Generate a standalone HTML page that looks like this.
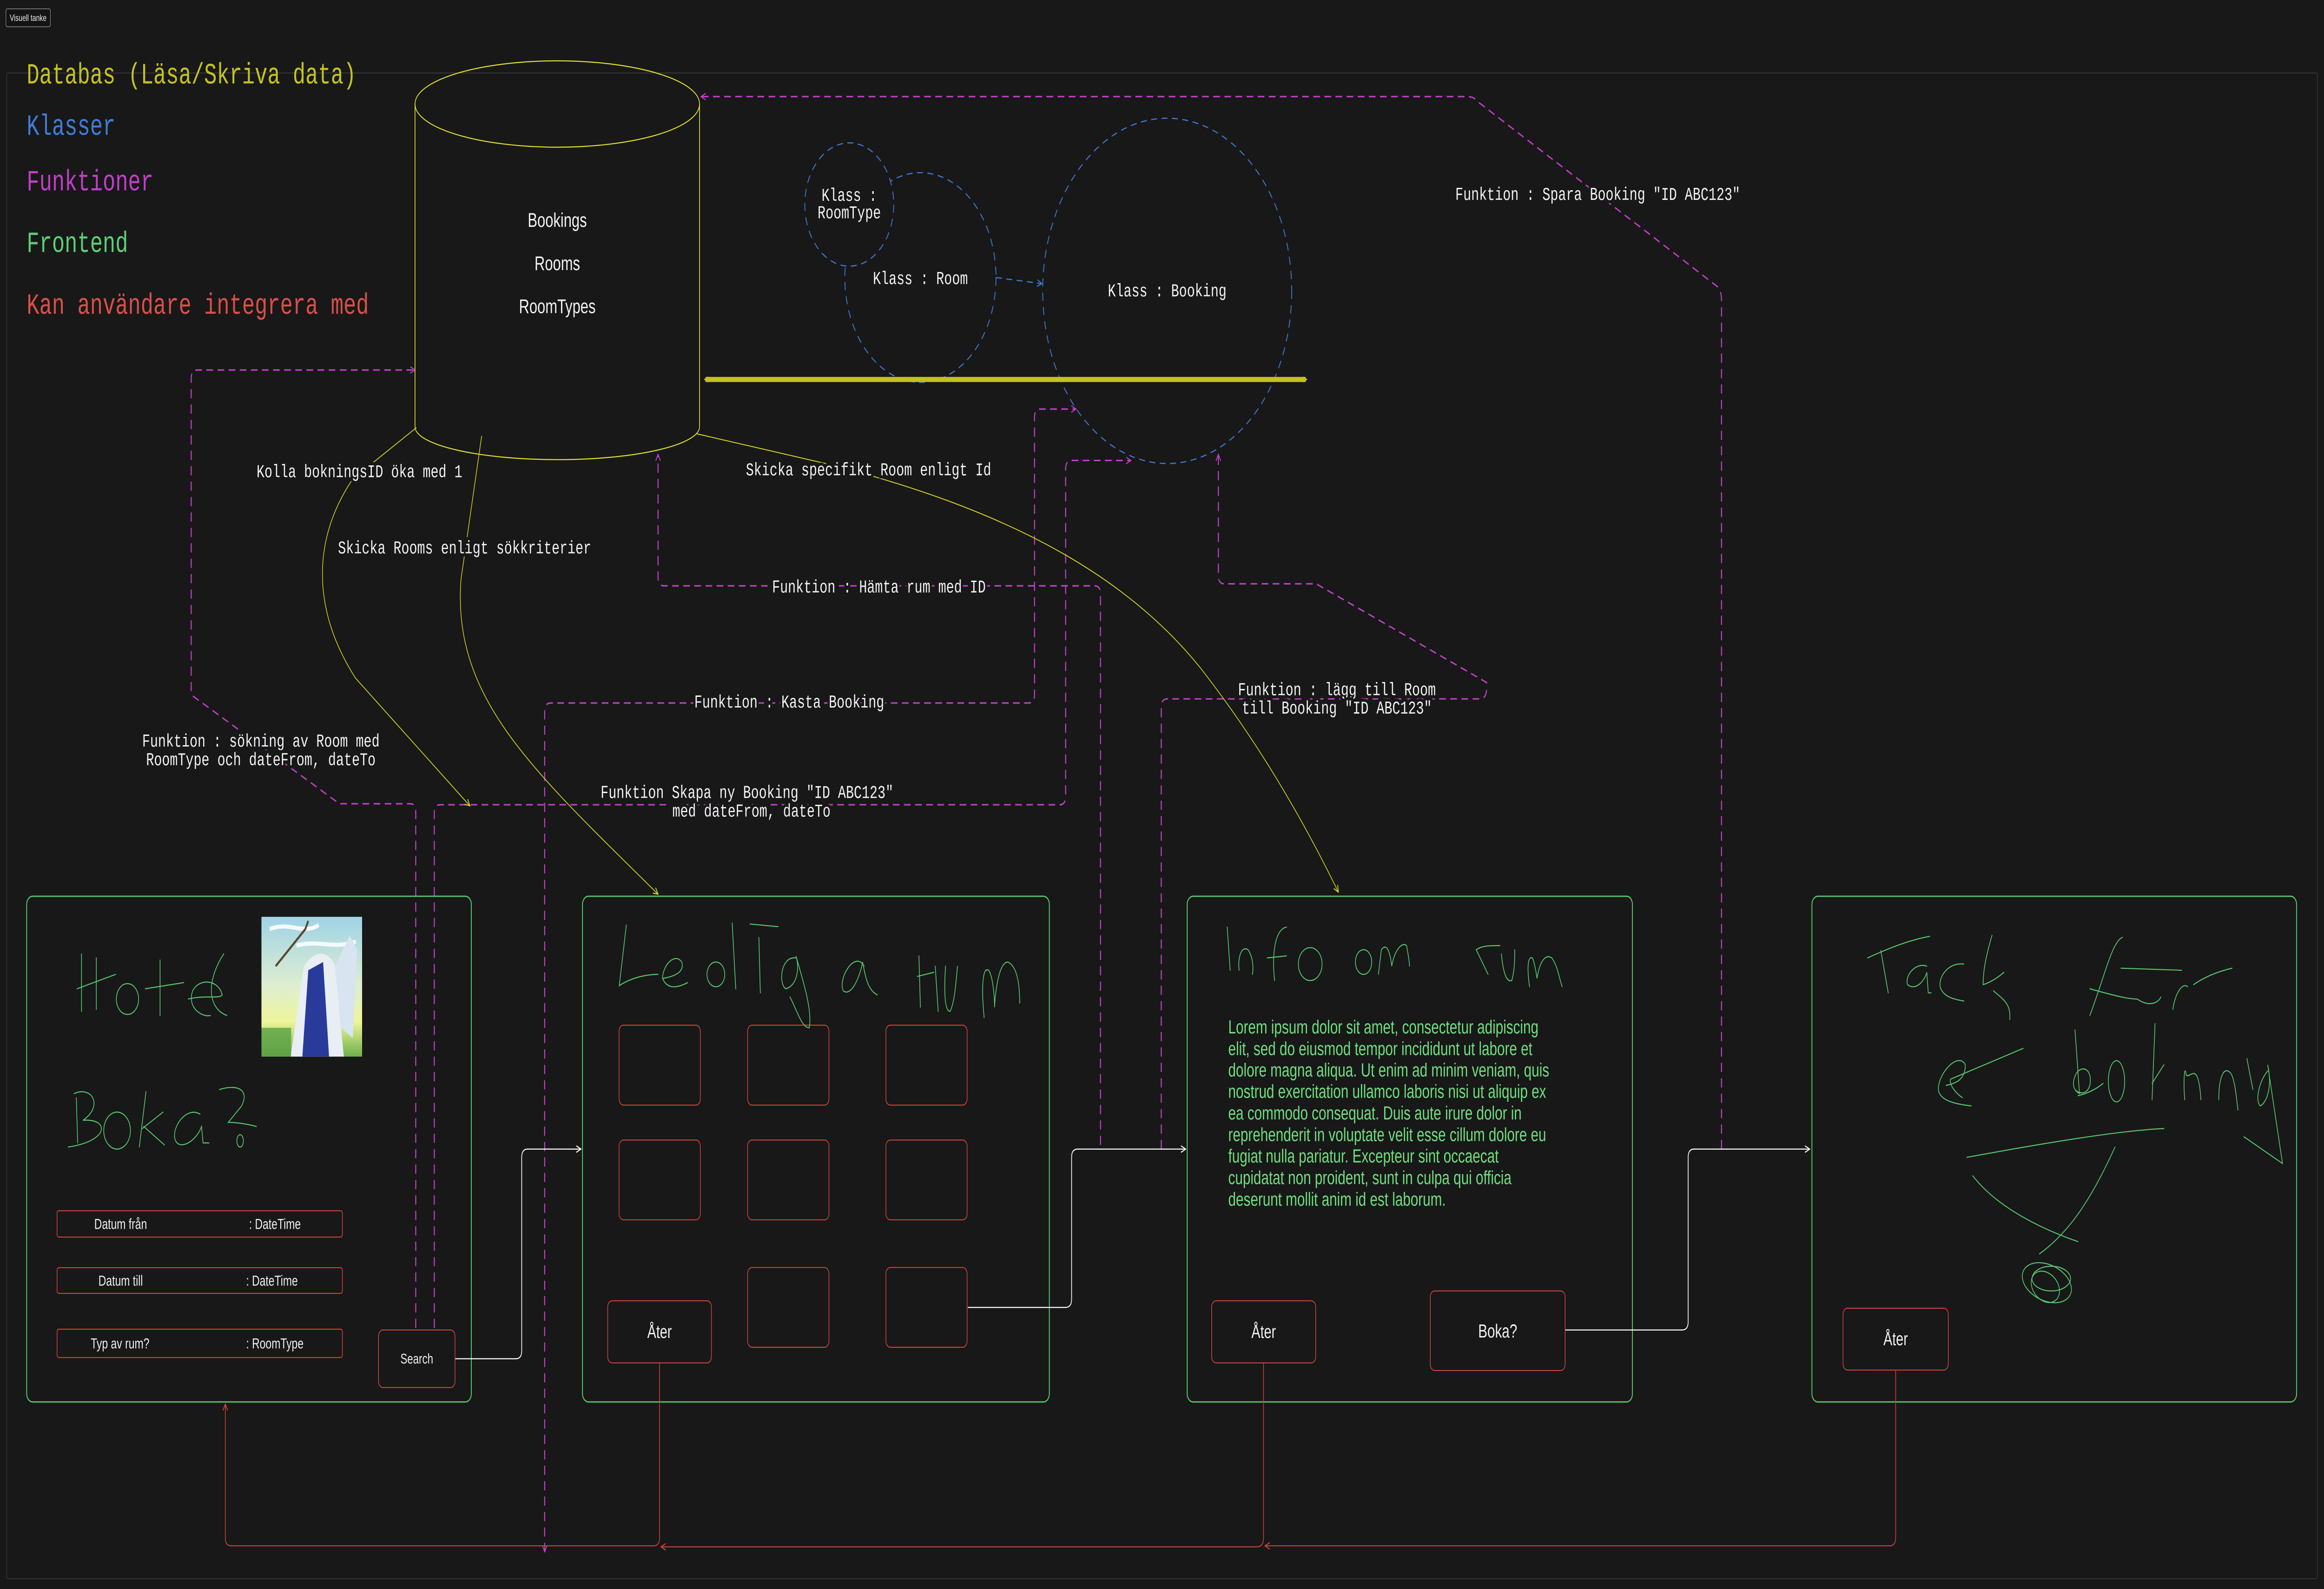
<!DOCTYPE html>
<html><head><meta charset="utf-8"><meta name="viewport" content="width=6933, initial-scale=1"><style>
html,body{margin:0;padding:0;background:#181818;overflow:hidden;width:100vw;height:100vh;}
svg{display:block;width:100vw;height:100vh;}
.mono{font-family:"Liberation Mono","DejaVu Sans Mono",monospace;}
.sans{font-family:"Liberation Sans","DejaVu Sans",sans-serif;}
.lbl{fill:#f2f2f2;font-size:8.9px;stroke:#181818;stroke-width:3;paint-order:stroke;}
</style></head><body>
<svg viewBox="0 0 1568 773" preserveAspectRatio="none" xmlns="http://www.w3.org/2000/svg">
<defs>
<marker id="am" viewBox="0 0 10 10" refX="9" refY="5" markerWidth="4" markerHeight="4" markerUnits="userSpaceOnUse" orient="auto-start-reverse"><path d="M1,1 L9,5 L1,9" fill="none" stroke="#c43fcb" stroke-width="1.3"/></marker>
<marker id="ab" viewBox="0 0 10 10" refX="9" refY="5" markerWidth="4" markerHeight="4" markerUnits="userSpaceOnUse" orient="auto"><path d="M1,1 L9,5 L1,9" fill="none" stroke="#3d7bd6" stroke-width="1.3"/></marker>
<marker id="aw" viewBox="0 0 10 10" refX="9" refY="5" markerWidth="4" markerHeight="4" markerUnits="userSpaceOnUse" orient="auto"><path d="M1,1 L9,5 L1,9" fill="none" stroke="#ffffff" stroke-width="1.3"/></marker>
<marker id="ar" viewBox="0 0 10 10" refX="9" refY="5" markerWidth="4" markerHeight="4" markerUnits="userSpaceOnUse" orient="auto"><path d="M1,1 L9,5 L1,9" fill="none" stroke="#d0473d" stroke-width="1.3"/></marker>
<marker id="ay" viewBox="0 0 10 10" refX="9" refY="5" markerWidth="4" markerHeight="4" markerUnits="userSpaceOnUse" orient="auto"><path d="M1,1 L9,5 L1,9" fill="none" stroke="#d6d622" stroke-width="1.3"/></marker>
<marker id="ayt" viewBox="0 0 10 10" refX="6" refY="5" markerWidth="3" markerHeight="3" markerUnits="userSpaceOnUse" orient="auto-start-reverse"><path d="M0,0 L10,5 L0,10 Z" fill="#c2c21a"/></marker>
<linearGradient id="sky" x1="0" y1="0" x2="0" y2="1"><stop offset="0" stop-color="#9fd3e6"/><stop offset="0.5" stop-color="#dfeed0"/><stop offset="0.75" stop-color="#eef59a"/><stop offset="1" stop-color="#6fb04a"/></linearGradient>
</defs>
<rect width="1568" height="773" fill="#181818"/>
<rect x="4.5" y="35.5" width="1559" height="732.5" rx="1" fill="none" stroke="#3a3a3a" stroke-width="0.4"/>
<rect x="4" y="4.3" width="30" height="8.7" rx="1" fill="#141414" stroke="#8a8a8a" stroke-width="0.35"/>
<text x="19" y="8.8" class="sans" font-size="4.4" fill="#eee" text-anchor="middle" dominant-baseline="central">Visuell tanke</text>

<g class="mono" font-size="14.25">
<text x="18" y="37" fill="#c4c41f" dominant-baseline="central">Databas (Läsa/Skriva data)</text>
<text x="18" y="62" fill="#3f7dd8" dominant-baseline="central">Klasser</text>
<text x="18" y="89" fill="#c13fc8" dominant-baseline="central">Funktioner</text>
<text x="18" y="119" fill="#5ccf78" dominant-baseline="central">Frontend</text>
<text x="18" y="149" fill="#d8504a" dominant-baseline="central">Kan användare integrera med</text>
</g>

<g fill="none" stroke="#c43fcb" stroke-width="0.7" stroke-dasharray="4.5 3">
<path d="M280.5,646 V395 Q280.5,391 277,391 H229 L129,338 V184 Q129,180 133,180 H280" marker-end="url(#am)"/>
<path d="M293,646 V395 Q293,391.5 297,391.5 H715 Q719,391.5 719,387 V228 Q719,224 723,224 H763" marker-end="url(#am)"/>
<path d="M367.5,755 V346 Q367.5,342 371.5,342 H694 Q698,342 698,338 V203 Q698,199 702,199 H726" marker-start="url(#am)" marker-end="url(#am)"/>
<path d="M742.5,557 V289 Q742.5,285 738.5,285 H448 Q444,285 444,281 V221" marker-end="url(#am)"/>
<path d="M783.5,559 V344 Q783.5,340 787.5,340 H998 Q1003,340 1003,335 V332 L888,284 H826 Q822,284 822,280 V221" marker-end="url(#am)"/>
<path d="M1161.5,559 V146 Q1161.5,141 1158,139 L998,50 Q995,47 990,47 H473" marker-end="url(#am)"/>
</g>

<g fill="none" stroke="#e3e32a" stroke-width="0.5">
<ellipse cx="376" cy="50.6" rx="96" ry="21"/>
<path d="M280,50.6 V207.6 A96,16 0 0 0 472,207.6 V50.6"/>
</g>
<g class="sans" font-size="9.7" fill="#f2f2f2" text-anchor="middle" dominant-baseline="central">
<text x="376" y="107">Bookings</text><text x="376" y="128">Rooms</text><text x="376" y="149">RoomTypes</text>
</g>

<g fill="none" stroke="#3d7bd6" stroke-width="0.55" stroke-dasharray="4 3">
<circle cx="621" cy="135" r="51"/>
<circle cx="787.5" cy="141.5" r="84"/>
<circle cx="573" cy="99.5" r="30" fill="#181818"/>
<path d="M672,135 L703,138" marker-end="url(#ab)"/>
</g>
<g class="mono" font-size="8.9" fill="#f2f2f2" text-anchor="middle" dominant-baseline="central">
<text x="573" y="95.5">Klass :</text><text x="573" y="104">RoomType</text>
<text x="621" y="136">Klass : Room</text>
<text x="787.5" y="142">Klass : Booking</text>
</g>

<path d="M476,184.6 H881" stroke="#c2c21a" stroke-width="2.5" fill="none" marker-start="url(#ayt)" marker-end="url(#ayt)"/>

<g fill="none" stroke="#d6d622" stroke-width="0.45">
<path d="M281,208 L238,233 C208,265 213,300 240,330 L317,392" marker-end="url(#ay)"/>
<path d="M325,212 L311,282 C305,340 360,375 444,435" marker-end="url(#ay)"/>
<path d="M470,211 L560,226 C680,248 760,280 810,325 C850,362 880,400 903,434" marker-end="url(#ay)"/>
</g>

<g class="mono lbl" text-anchor="middle" dominant-baseline="central">
<text x="1078" y="95">Funktion : Spara Booking "ID ABC123"</text>
<text x="242.5" y="230">Kolla bokningsID öka med 1</text>
<text x="313.5" y="267">Skicka Rooms enligt sökkriterier</text>
<text x="586" y="229">Skicka specifikt Room enligt Id</text>
<text x="593" y="286">Funktion : Hämta rum med ID</text>
<text x="532.5" y="342">Funktion : Kasta Booking</text>
<text x="902" y="336">Funktion : lägg till Room</text>
<text x="902" y="345">till Booking "ID ABC123"</text>
<text x="176" y="361">Funktion : sökning av Room med</text>
<text x="176" y="370">RoomType och dateFrom, dateTo</text>
<text x="504" y="386">Funktion Skapa ny Booking "ID ABC123"</text>
<text x="507" y="395">med dateFrom, dateTo</text>
</g>

<g fill="none" stroke="#56c96e" stroke-width="0.6">
<rect x="18" y="436" width="300" height="246" rx="4"/>
<rect x="393" y="436" width="315" height="246" rx="4"/>
<rect x="801" y="436" width="300.4" height="246" rx="4"/>
<rect x="1222.5" y="436" width="327" height="246" rx="4"/>
</g>

<g fill="none" stroke="#ffffff" stroke-width="0.5">
<path d="M307,661 H348 Q352,661 352,657 V563 Q352,559 356,559 H392" marker-end="url(#aw)"/>
<path d="M653,636 H719 Q723,636 723,632 V563 Q723,559 727,559 H800" marker-end="url(#aw)"/>
<path d="M1056,647 H1135 Q1139,647 1139,643 V563 Q1139,559 1143,559 H1221" marker-end="url(#aw)"/>
</g>

<g fill="none" stroke="#d0473d" stroke-width="0.45">
<path d="M445,663 V748 Q445,752 441,752 H156 Q152,752 152,748 V683" marker-end="url(#ar)"/>
<path d="M852.5,663 V748 Q852.5,752.5 848,752.5 H446" marker-end="url(#ar)"/>
<path d="M1279,666.5 V748 Q1279,752 1275,752 H853.5" marker-end="url(#ar)"/>
</g>

<rect x="176.4" y="446" width="67.9" height="68" fill="url(#sky)"/>
<path d="M182,452 C195,448 205,455 215,450 M200,460 C215,457 225,462 240,458" stroke="#f4fbff" stroke-width="2" fill="none"/>
<path d="M205,470 C212,462 222,462 226,470 L232,514 L196,514 Z" fill="#e8eef4"/>
<path d="M208,472 L218,468 L222,514 L204,514 Z" fill="#283a9a"/>
<path d="M226,470 L236,455 L241,462 L238,505 L230,500 Z" fill="#d8e4f0"/>
<path d="M186,470 L206,452 L208,448" stroke="#5a4630" stroke-width="1.2" fill="none"/>
<rect x="176.4" y="500" width="20" height="14" fill="#5aa045" opacity="0.8"/>
<g fill="none" stroke="#d0473d" stroke-width="0.45">
<rect x="38.5" y="589" width="192.5" height="12.8" rx="1.2"/>
<rect x="38.5" y="616.7" width="192.5" height="12.5" rx="1.2"/>
<rect x="38.5" y="646.6" width="192.5" height="13.8" rx="1.2"/>
<rect x="255.4" y="647" width="51.6" height="28" rx="3"/>
</g>
<g class="sans" font-size="7.2" fill="#eeeeee" dominant-baseline="central">
<text x="81.4" y="595.4" text-anchor="middle">Datum från</text><text x="168" y="595.4">:  DateTime</text>
<text x="81.4" y="623" text-anchor="middle">Datum till</text><text x="166" y="623">:  DateTime</text>
<text x="81" y="653.5" text-anchor="middle">Typ av rum?</text><text x="166" y="653.5">:   RoomType</text>
<text x="281.2" y="661" text-anchor="middle" font-size="7">Search</text>
</g>
<g fill="none" stroke="#56c96e" stroke-width="0.5" stroke-linecap="round">
<path d="M55,464 V492 M65,466 V491 M52,481 L78,474"/>
<ellipse cx="86" cy="486" rx="7.5" ry="7.5"/>
<path d="M108,467 V494 M98,481 L124,478"/>
<path d="M127,486 C138,484 148,486 150,484 C147,476 134,476 130,482 C126,490 136,495 142,494"/>
<path d="M151,464 C140,476 139,490 153,494"/>
<path d="M51.5,534 L52.4,556 M50,532 C62,528 70,538 56,545 C74,544 74,555 46,558"/>
<ellipse cx="79" cy="550" rx="9" ry="9"/>
<path d="M98.5,531 L94,558 M96,549 L110,541 M97,548 L111,557"/>
<path d="M135,542 C126,538 116,548 118,554 C120,560 132,556 136,548 L137,556 L141,556"/>
<path d="M148,530 C162,527 168,531 163,538 L154,546 C160,546 168,547 173,548"/>
<ellipse cx="162" cy="555" rx="2.2" ry="3"/>
</g>

<g fill="none" stroke="#d0473d" stroke-width="0.45">
<rect x="417.7" y="498.7" width="54.8" height="38.9" rx="3"/>
<rect x="504.4" y="498.7" width="54.9" height="38.9" rx="3"/>
<rect x="597.7" y="498.7" width="54.8" height="38.9" rx="3"/>
<rect x="417.7" y="554.6" width="54.8" height="38.8" rx="3"/>
<rect x="504.4" y="554.6" width="54.9" height="38.8" rx="3"/>
<rect x="597.7" y="554.6" width="54.8" height="38.8" rx="3"/>
<rect x="504.4" y="616.6" width="54.9" height="38.8" rx="3"/>
<rect x="597.7" y="616.6" width="54.8" height="38.8" rx="3"/>
<rect x="410" y="632.8" width="70" height="30.2" rx="3"/>
<rect x="817.5" y="632.8" width="70.2" height="30.2" rx="3"/>
<rect x="965" y="628" width="91" height="38.7" rx="3"/>
<rect x="1243.5" y="636.4" width="71" height="30.1" rx="3"/>
</g>
<g class="sans" font-size="9" fill="#f2f2f2" text-anchor="middle" dominant-baseline="central">
<text x="445" y="648">Åter</text>
<text x="852.6" y="648">Åter</text>
<text x="1010.5" y="647.5" font-size="9.3">Boka?</text>
<text x="1279" y="651.5">Åter</text>
</g>
<g fill="none" stroke="#56c96e" stroke-width="0.5" stroke-linecap="round">
<path d="M422.6,450 L417.8,479.5 C425,476 435,474 444,474"/>
<path d="M447,476 C455,475 462,473 460,468 C455,463 447,470 447,476 C450,481 456,481 464,478"/>
<ellipse cx="483" cy="474" rx="6" ry="6"/>
<path d="M494,449 L496.4,481"/>
<path d="M512,456 L513,483 M506,449.5 L525,450.8"/>
<path d="M537,466 C527,465 525,478 530,481 C537,480 540,472 537,465 C543,480 548,492 546,500 C541,500 538,492 533,485"/>
<path d="M583,470 C577,462 565,476 569,482 C574,485 580,476 582,468 C584,476 586,482 592,484"/>
<path d="M620,465 L621,490 M619,475 L630,473 M631,470 L633,492"/>
<path d="M638,470 C637,480 637,492 641,492 C644,488 645,478 646,470"/>
<path d="M664,495 C662,480 663,470 667,472 C670,475 671,485 671,490 C672,478 675,468 680,468 C686,470 688,478 688,488"/>
</g>

<g class="sans" font-size="9.3" fill="#6ee07f" dominant-baseline="central">
<text x="828.7" y="499.6">Lorem ipsum dolor sit amet, consectetur adipiscing</text>
<text x="828.7" y="510.1">elit, sed do eiusmod tempor incididunt ut labore et</text>
<text x="828.7" y="520.5">dolore magna aliqua. Ut enim ad minim veniam, quis</text>
<text x="828.7" y="531">nostrud exercitation ullamco laboris nisi ut aliquip ex</text>
<text x="828.7" y="541.5">ea commodo consequat. Duis aute irure dolor in</text>
<text x="828.7" y="552">reprehenderit in voluptate velit esse cillum dolore eu</text>
<text x="828.7" y="562.4">fugiat nulla pariatur. Excepteur sint occaecat</text>
<text x="828.7" y="572.9">cupidatat non proident, sunt in culpa qui officia</text>
<text x="828.7" y="583.4">deserunt mollit anim id est laborum.</text>
</g>
<g fill="none" stroke="#56c96e" stroke-width="0.5" stroke-linecap="round">
<path d="M828,451 L830,472"/>
<path d="M836,472 C835,465 838,460 842,462 C845,465 846,470 845,474"/>
<path d="M860,477 C858,465 860,452 868,451 M855,466 L868,465"/>
<ellipse cx="884" cy="469" rx="8" ry="8"/>
<ellipse cx="920" cy="468" rx="5.5" ry="6"/>
<path d="M930,474 L932,462 C936,458 938,464 939,470 C941,462 946,458 949,460 C950,464 951,468 951,470"/>
<path d="M1004,474 L996,462 C1000,460 1005,460 1012,460"/>
<path d="M1013,464 C1014,472 1016,478 1020,477 C1022,472 1022,466 1022,462"/>
<path d="M1032,480 C1030,470 1031,465 1034,466 C1036,470 1037,476 1037,476 C1039,467 1043,464 1047,466 C1051,470 1052,476 1054,480"/>
</g>

<g fill="none" stroke="#56c96e" stroke-width="0.5" stroke-linecap="round">
<path d="M1260,466 C1275,461 1290,457 1302,455.5 M1269,462.5 L1274,483"/>
<path d="M1300,470 C1292,468 1285,475 1287,479 C1292,482 1298,478 1300,473 L1301,483 L1303,483"/>
<path d="M1325,469 C1316,468 1308,474 1309,480 C1311,485 1318,486 1325,487"/>
<path d="M1344,455 C1340,465 1338,472 1338,479 C1343,478 1349,475 1352,473 M1345,482 C1351,486 1357,488 1356,496"/>
<path d="M1432,456 C1425,458 1420,475 1410,494 M1431,471 L1472,472"/>
<path d="M1410,481 C1425,484 1435,486 1442,486 C1450,490 1456,488 1458,485"/>
<path d="M1466,491 C1468,482 1473,478 1476,480 M1480,479 C1490,474 1500,472 1506,471"/>
<path d="M1313,528 C1320,527 1326,525 1326,518 C1322,512 1310,520 1308,528 C1306,535 1318,537 1330,538"/>
<path d="M1365,510 L1316,525 C1315,528 1320,532 1324,534"/>
<path d="M1400,501 L1403,532 C1398,530 1398,526 1401,522 C1405,518 1412,520 1410,528 C1408,533 1402,532 1400,530 M1402,533 C1408,532 1414,530 1419,527"/>
<ellipse cx="1428" cy="526" rx="5.5" ry="10"/>
<path d="M1454,498 L1452,535 M1452,527 L1460,518"/>
<path d="M1474,535 C1473,525 1474,517 1475,523 C1478,525 1483,515 1485,535"/>
<path d="M1497,535 C1497,525 1500,518 1505,522 C1508,525 1509,535 1510,540"/>
<path d="M1516,515 L1520,530"/>
<path d="M1530,521 C1525,525 1521,535 1525,538 C1530,536 1533,528 1530,518 L1540,566 L1514,553"/>
<path d="M1327,563 C1380,556 1430,550 1460,549"/>
<path d="M1331,572 C1345,585 1370,596 1402,604 M1427,558 C1410,585 1395,600 1376,610"/>
<ellipse cx="1381" cy="624" rx="17" ry="9" transform="rotate(15 1381 624)"/>
<ellipse cx="1384" cy="622" rx="13" ry="6"/>
<ellipse cx="1380" cy="626" rx="10" ry="7" transform="rotate(25 1380 626)"/>
</g>
</svg>
</body></html>
